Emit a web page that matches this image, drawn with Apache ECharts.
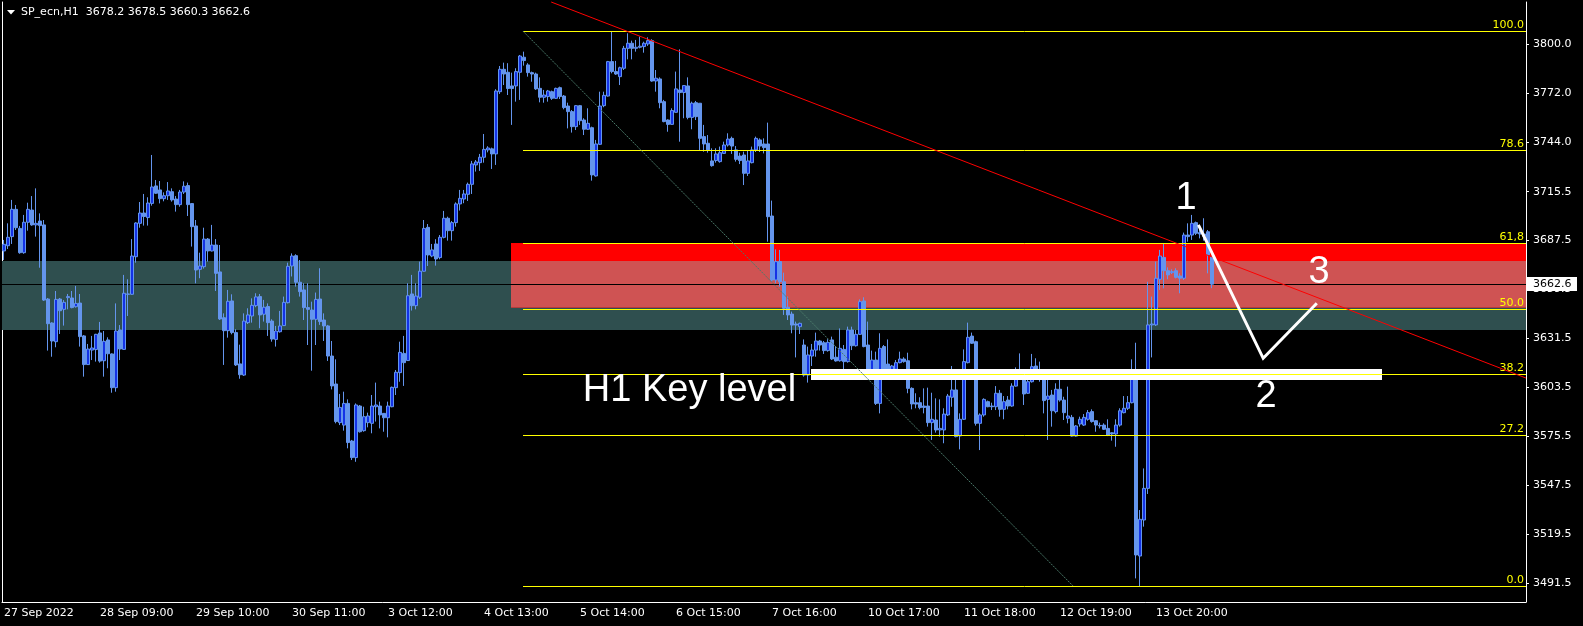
<!DOCTYPE html>
<html><head><meta charset="utf-8">
<script src="https://cdn.jsdelivr.net/npm/echarts@6/dist/echarts.min.js"></script>
<style>html,body{margin:0;padding:0;background:#000;}#c{width:1583px;height:626px;}</style>
</head><body><div id="c"></div>
<script>
const symbol = 'SP_ecn,H1';
const opens = [
3681.6,3684.6,3689.8,3705.4,3694.5,3680.6,3698.0,3705.0,3696.5,3698.7,
3696.5,3654.1,3640.4,3629.7,3654.1,3648.2,3654.9,3654.7,3649.7,3651.8,
3633.0,3616.6,3624.9,3625.2,3634.7,3618.8,3630.7,3622.7,3603.4,3636.4,
3625.3,3657.0,3656.8,3678.3,3697.4,3703.3,3700.7,3708.8,3718.8,3716.5,
3711.5,3713.2,3715.5,3711.3,3708.1,3715.3,3719.0,3708.7,3695.9,3671.1,
3672.6,3688.4,3681.6,3685.0,3669.6,3643.4,3636.0,3653.0,3634.9,3617.0,
3610.6,3640.6,3644.4,3650.3,3655.5,3645.4,3649.8,3641.5,3631.0,3635.4,
3638.9,3652.0,3673.0,3678.9,3663.7,3659.3,3649.2,3647.8,3642.5,3654.1,
3642.1,3638.7,3621.5,3605.5,3583.4,3582.0,3594.4,3572.9,3563.4,3592.9,
3578.8,3583.4,3583.0,3592.5,3592.9,3588.7,3586.2,3592.5,3603.4,3612.0,
3623.0,3618.9,3657.0,3650.3,3655.1,3670.0,3695.1,3678.7,3685.6,3677.8,
3689.4,3700.3,3693.2,3697.8,3708.5,3711.3,3714.0,3719.7,3730.8,3732.1,
3735.2,3739.4,3740.0,3737.1,3772.7,3785.5,3783.8,3776.0,3776.0,3783.8,
3792.4,3788.0,3783.6,3782.8,3774.6,3769.5,3769.9,3772.7,3768.9,3775.0,
3770.2,3764.5,3761.3,3752.7,3764.7,3756.5,3751.2,3752.1,3724.5,3742.6,
3764.7,3770.2,3789.9,3784.2,3781.3,3786.1,3797.5,3800.4,3797.5,3798.1,
3798.5,3800.0,3801.9,3778.8,3780.0,3767.0,3756.5,3754.0,3760.9,3773.7,
3772.2,3776.0,3758.0,3766.4,3766.1,3747.0,3743.2,3733.1,3733.3,3732.7,
3737.4,3742.2,3746.0,3739.4,3735.9,3736.5,3726.0,3732.1,3739.4,3745.1,
3742.8,3742.8,3701.6,3665.0,3675.5,3664.0,3649.4,3645.5,3639.8,3638.3,
3627.8,3610.6,3621.5,3624.9,3630.1,3629.1,3624.6,3630.7,3620.8,3618.8,
3625.3,3618.3,3636.4,3627.4,3633.9,3653.0,3627.8,3612.6,3619.2,3594.4,
3626.9,3616.9,3611.6,3613.9,3617.7,3619.8,3618.8,3603.0,3594.8,3594.8,
3592.9,3592.9,3583.4,3584.9,3579.2,3579.2,3587.8,3597.9,3602.1,3575.8,
3585.3,3617.7,3632.9,3629.7,3583.0,3587.8,3595.4,3592.9,3592.5,3600.2,
3591.0,3596.3,3592.9,3604.3,3609.7,3611.2,3600.2,3606.8,3615.8,3609.3,
3610.1,3596.7,3599.2,3589.7,3602.5,3596.3,3585.9,3586.4,3575.7,3582.6,
3582.0,3585.3,3589.7,3584.5,3581.8,3582.0,3580.1,3577.6,3576.9,3582.0,
3589.1,3591.6,3594.8,3610.6,3507.1,3527.7,3545.8,3639.3,3639.3,3665.4,
3677.9,3670.3,3669.2,3670.3,3667.3,3666.0,3690.7,3690.7,3697.8,3692.1,
3691.3,3692.6,3678.2];
const highs = [
3687.9,3697.4,3710.8,3707.9,3695.9,3702.2,3709.2,3713.0,3717.4,3703.1,
3699.3,3654.7,3640.8,3658.7,3654.7,3653.5,3657.0,3658.7,3661.6,3657.0,
3633.5,3628.4,3633.0,3634.2,3641.0,3635.8,3632.2,3623.0,3651.6,3639.2,
3667.9,3665.4,3688.4,3698.0,3709.6,3714.2,3712.3,3736.5,3722.2,3721.6,
3715.1,3721.0,3717.4,3713.0,3716.5,3721.4,3720.7,3708.9,3699.3,3680.6,
3694.9,3689.0,3696.5,3688.4,3685.0,3645.9,3659.3,3656.8,3636.8,3628.0,
3645.9,3648.8,3654.5,3657.4,3657.0,3653.6,3651.6,3642.5,3638.7,3647.3,
3655.5,3674.9,3680.2,3679.7,3676.4,3663.1,3663.1,3652.6,3657.8,3671.7,
3645.9,3639.3,3630.1,3619.6,3599.8,3601.1,3596.7,3573.5,3594.4,3593.5,
3592.5,3589.1,3599.2,3606.3,3595.4,3588.9,3595.4,3604.0,3613.5,3629.7,
3633.0,3663.1,3667.9,3663.1,3675.5,3699.3,3697.0,3685.6,3688.3,3690.7,
3704.5,3701.2,3698.7,3709.4,3716.5,3716.5,3720.7,3733.1,3733.6,3737.1,
3748.5,3741.5,3740.7,3774.1,3787.4,3789.3,3789.0,3783.6,3786.1,3793.7,
3795.6,3789.0,3784.2,3783.6,3780.9,3773.7,3773.7,3773.3,3775.0,3775.6,
3770.8,3766.4,3762.2,3765.1,3765.1,3757.5,3763.2,3752.7,3745.1,3772.7,
3772.7,3790.3,3807.1,3790.3,3787.0,3798.9,3806.1,3801.9,3802.3,3804.2,
3801.3,3803.8,3802.7,3785.1,3780.9,3768.0,3756.9,3763.2,3784.2,3796.9,
3776.5,3780.9,3767.0,3767.4,3766.1,3753.7,3747.9,3740.3,3740.3,3741.3,
3744.1,3748.9,3747.0,3741.6,3737.8,3738.4,3738.8,3741.3,3747.0,3746.0,
3746.0,3755.0,3710.4,3682.5,3682.2,3669.2,3655.5,3646.9,3641.2,3640.6,
3631.0,3626.9,3628.4,3634.9,3630.7,3630.1,3631.1,3632.6,3627.2,3637.3,
3627.8,3638.3,3638.3,3636.4,3653.9,3655.1,3641.2,3624.6,3624.0,3634.5,
3627.8,3631.0,3616.4,3619.2,3624.0,3620.8,3623.4,3603.6,3600.2,3597.9,
3603.0,3603.4,3600.5,3597.3,3596.7,3591.6,3599.8,3615.8,3607.8,3588.7,
3625.3,3640.6,3634.9,3630.3,3588.7,3597.3,3596.0,3594.8,3604.3,3602.1,
3598.6,3598.6,3605.9,3615.0,3623.0,3612.0,3607.8,3622.7,3620.2,3618.3,
3610.6,3607.8,3602.1,3605.9,3608.2,3598.2,3604.0,3587.8,3582.0,3586.8,
3588.3,3590.6,3591.0,3584.9,3583.4,3583.0,3585.3,3577.9,3585.3,3591.6,
3598.6,3598.6,3619.6,3629.1,3533.4,3557.2,3664.0,3655.5,3675.5,3682.2,
3685.6,3672.2,3671.1,3671.7,3668.8,3692.1,3697.4,3702.2,3698.4,3696.5,
3700.3,3693.6,3678.5];
const lows = [
3676.4,3682.7,3685.6,3693.6,3680.0,3680.0,3693.2,3696.0,3689.8,3672.0,
3653.0,3624.6,3621.1,3626.5,3634.1,3638.9,3648.2,3648.8,3649.2,3626.9,
3609.7,3616.4,3619.2,3618.3,3617.7,3609.7,3614.5,3600.5,3601.1,3619.2,
3625.0,3644.4,3656.5,3674.9,3694.9,3696.1,3696.1,3707.5,3714.2,3708.8,
3710.0,3710.8,3709.8,3704.1,3706.9,3714.2,3701.6,3684.1,3663.1,3666.0,
3671.5,3675.5,3681.3,3658.7,3642.1,3616.4,3632.0,3633.9,3615.8,3608.5,
3610.1,3639.8,3640.6,3649.4,3637.4,3641.2,3633.0,3629.7,3626.9,3634.9,
3638.7,3651.6,3667.0,3661.2,3655.5,3642.1,3627.8,3613.1,3627.8,3639.3,
3630.1,3618.7,3602.4,3583.0,3582.0,3578.8,3568.7,3562.0,3561.0,3577.7,
3578.2,3580.7,3577.3,3584.0,3580.1,3578.2,3575.0,3592.2,3599.2,3606.8,
3604.4,3618.7,3647.5,3648.2,3654.1,3669.8,3673.0,3678.0,3673.2,3676.8,
3688.8,3687.5,3687.5,3695.5,3704.7,3708.9,3710.2,3714.2,3727.0,3727.4,
3732.1,3738.0,3728.5,3730.8,3771.4,3776.5,3770.8,3753.7,3767.0,3768.0,
3787.6,3781.3,3778.4,3773.7,3766.6,3766.4,3767.0,3768.0,3768.5,3768.5,
3762.6,3751.7,3749.3,3750.8,3753.7,3747.9,3750.8,3721.8,3724.1,3742.2,
3763.8,3769.9,3783.2,3782.3,3776.5,3785.1,3791.2,3791.2,3795.6,3797.5,
3795.0,3798.9,3778.4,3772.7,3763.2,3755.2,3749.8,3753.7,3760.7,3744.1,
3757.5,3756.9,3751.2,3756.5,3739.0,3738.4,3737.8,3729.8,3732.1,3732.1,
3737.1,3741.3,3737.1,3732.7,3731.3,3719.3,3724.5,3731.7,3738.2,3738.2,
3737.4,3686.9,3664.0,3663.1,3661.2,3645.0,3642.1,3634.5,3620.7,3634.1,
3609.7,3606.3,3615.8,3621.1,3624.6,3622.7,3624.0,3619.2,3618.3,3618.3,
3611.2,3617.7,3624.9,3626.9,3633.5,3626.5,3611.6,3607.8,3593.5,3588.7,
3608.7,3610.6,3611.2,3611.2,3617.3,3617.7,3600.2,3591.0,3591.6,3591.0,
3588.7,3581.1,3573.5,3577.7,3575.4,3571.6,3587.2,3592.5,3575.0,3568.1,
3584.9,3617.3,3628.4,3581.7,3567.7,3586.8,3592.2,3590.6,3590.6,3586.8,
3585.3,3591.0,3592.5,3604.0,3607.8,3593.5,3599.8,3606.3,3607.8,3606.8,
3588.7,3573.5,3581.1,3588.7,3595.4,3584.9,3583.0,3575.4,3575.4,3581.1,
3581.5,3584.5,3583.4,3578.2,3580.1,3579.2,3575.7,3573.1,3569.6,3581.1,
3588.7,3590.6,3594.4,3494.3,3489.9,3523.9,3542.6,3620.7,3638.7,3659.3,
3660.2,3665.4,3668.4,3665.9,3657.4,3665.0,3686.9,3687.9,3690.7,3688.8,
3687.5,3668.8,3660.3];
const closes = [
3685.4,3689.4,3705.4,3694.9,3680.6,3698.0,3705.4,3696.5,3697.4,3696.1,
3653.5,3640.0,3630.1,3653.9,3647.4,3652.2,3655.5,3649.2,3651.6,3632.6,
3616.6,3625.5,3626.1,3633.9,3618.6,3629.9,3622.8,3603.4,3635.8,3625.5,
3657.4,3656.8,3678.7,3697.6,3703.3,3701.3,3709.0,3718.2,3714.6,3711.5,
3713.2,3715.9,3710.8,3708.1,3715.3,3718.6,3708.1,3695.5,3670.7,3673.0,
3688.4,3681.6,3685.0,3668.8,3642.7,3636.0,3652.8,3634.9,3616.4,3610.8,
3641.5,3645.0,3650.5,3655.3,3645.0,3649.4,3640.6,3631.2,3635.8,3638.7,
3652.2,3672.8,3678.7,3663.7,3658.3,3649.2,3648.2,3642.5,3653.9,3641.2,
3638.7,3621.5,3604.4,3584.0,3592.1,3594.4,3572.0,3563.4,3593.5,3578.2,
3586.8,3587.2,3592.9,3593.5,3587.8,3586.2,3592.9,3603.6,3612.2,3623.6,
3617.7,3656.0,3650.3,3655.8,3670.0,3694.5,3679.3,3682.2,3677.0,3689.4,
3700.3,3693.2,3697.8,3708.5,3711.7,3714.2,3719.7,3731.4,3732.5,3735.2,
3739.7,3740.5,3737.1,3773.1,3785.5,3782.8,3774.5,3774.5,3784.2,3793.1,
3790.5,3783.6,3782.8,3774.3,3769.5,3770.8,3773.1,3768.9,3774.6,3769.9,
3763.6,3761.3,3752.7,3764.7,3756.1,3751.2,3754.6,3725.1,3742.8,3764.5,
3770.6,3789.9,3784.2,3782.8,3786.4,3797.5,3800.4,3797.5,3798.1,3798.7,
3800.4,3801.9,3778.8,3780.4,3766.4,3755.6,3754.0,3761.9,3774.3,3772.2,
3776.2,3758.0,3766.1,3758.4,3746.0,3742.8,3739.4,3730.4,3737.1,3737.8,
3742.2,3745.6,3741.6,3734.0,3733.3,3726.0,3733.1,3739.4,3746.0,3741.6,
3740.7,3701.2,3665.0,3675.5,3664.0,3648.8,3645.0,3639.2,3639.2,3640.2,
3610.6,3622.1,3624.9,3630.1,3627.8,3624.6,3629.3,3619.8,3618.7,3625.9,
3618.3,3636.4,3627.4,3633.9,3652.6,3626.9,3612.6,3619.2,3594.4,3625.9,
3609.7,3611.2,3615.8,3617.7,3619.8,3618.3,3603.0,3594.1,3594.0,3592.0,
3592.1,3583.4,3585.3,3579.2,3580.1,3588.3,3598.6,3602.1,3575.4,3585.3,
3618.3,3632.2,3628.8,3583.0,3587.8,3596.7,3592.5,3592.5,3600.2,3591.0,
3595.4,3592.9,3604.3,3609.3,3611.6,3599.8,3606.8,3615.4,3608.2,3608.2,
3596.0,3598.6,3590.2,3602.5,3596.3,3589.1,3587.2,3575.7,3581.5,3585.3,
3586.4,3589.1,3584.0,3582.0,3581.5,3579.6,3576.3,3576.9,3582.0,3590.2,
3591.6,3594.8,3610.6,3507.7,3528.1,3545.8,3639.3,3639.8,3666.0,3678.7,
3670.3,3667.9,3669.8,3666.5,3666.0,3690.7,3689.8,3697.4,3691.7,3691.3,
3690.0,3679.3,3662.6];
const tickLabels = ['27 Sep 2022','28 Sep 09:00','29 Sep 10:00','30 Sep 11:00','3 Oct 12:00','4 Oct 13:00','5 Oct 14:00','6 Oct 15:00','7 Oct 16:00','10 Oct 17:00','11 Oct 18:00','12 Oct 19:00','13 Oct 20:00'];
const barsPerTick = 24;
const priceTicks = [3800.0,3772.0,3744.0,3715.5,3687.5,3659.5,3631.5,3603.5,3575.5,3547.5,3519.5,3491.5];
const fibLabels = ['100.0','78.6','61,8','50.0','38.2','27.2','0.0'];
const fibRatios = [1.0,0.786,0.618,0.5,0.382,0.272,0.0];
const fibHigh = 3807.3, fibLow = 3490.0;

// ---- layout / drawing configuration ----
const SLOTS = 381;             // chart slots incl. right shift area
const PMIN = 3480.8, PMAX = 3824.0;
const fibStart = 130.25;
const zones = [
  {x0:0, x1:SLOTS, lo:3636.4, hi:3675.9, color:'#2f4f4f'},
  {x0:127.25, x1:SLOTS, lo:3649.2, hi:3686.2, color:'#ff0000'}
];
const overlapColor = '#cf5353';
const keyLevel = {x0:202.25, x1:345, lo:3607.8, hi:3614.1};
const lineObjs = [
  {pts:[[fibStart,fibHigh],[267.75,fibLow]], color:'#4b7a6a', width:1, dash:[2,1]},
  {pts:[[137.3,3824.0],[SLOTS,3608.9]], color:'#ff0000', width:1},
  {pts:[[299.1,3696.5],[315.3,3620.2],[328.7,3651.7]], color:'#ffffff', width:3}
];
const notes = [
  {text:'1', x:296.0, y:3711.5, align:'center'},
  {text:'2', x:316.0, y:3598.6, align:'center'},
  {text:'3', x:329.25, y:3669.2, align:'center'},
  {text:'H1 Key level', x:145.2, y:3601.8, align:'left'}
];

const N = closes.length;
const ohlc = opens.map((o,i)=>[o, closes[i], lows[i], highs[i]]);
const cats = Array.from({length:SLOTS}, (_,i)=>String(i));
const labelAt = i => (i % barsPerTick === 0 && i / barsPerTick < tickLabels.length) ? tickLabels[i / barsPerTick] : '';
const lastClose = closes[N-1];
const headerText = symbol + '  ' + [opens[N-1], highs[N-1], lows[N-1], closes[N-1]].map(v=>v.toFixed(1)).join(' ');

const zoneRects = zones.map(z=>z);
(function(){
  const a = zones[0], b = zones[1];
  const x0 = Math.max(a.x0,b.x0), x1 = Math.min(a.x1,b.x1), lo = Math.max(a.lo,b.lo), hi = Math.min(a.hi,b.hi);
  if (x1 > x0 && hi > lo) zoneRects.push({x0, x1, lo, hi, color: overlapColor});
})();

const FONT = '"DejaVu Sans", sans-serif';
const chart = echarts.init(document.getElementById('c'), null, {renderer:'canvas'});

function rectItem(api, r, fill){
  const p0 = api.coord([r.x0, r.hi]);
  const p1 = api.coord([r.x1, r.lo]);
  return {type:'rect', shape:{x:p0[0], y:p0[1], width:p1[0]-p0[0], height:p1[1]-p0[1]}, style:{fill:fill}};
}

const option = {
  backgroundColor:'#000',
  animation:false,
  grid:{left:2, right:57, top:2, bottom:24, outerBoundsMode:'none', containLabel:false},
  graphic:[
    {type:'polygon', shape:{points:[[7,10],[15,10],[11,14.5]]}, style:{fill:'#fff'}},
    {type:'text', x:21, y:12.5, style:{text:headerText, fill:'#fff', font:'11px '+FONT, verticalAlign:'middle', textVerticalAlign:'middle'}}
  ],
  xAxis:[
    {type:'category', data:cats, boundaryGap:true,
     axisLine:{onZero:false, lineStyle:{color:'#fff', width:1}},
     axisTick:{alignWithLabel:true, interval:(i)=>labelAt(i)!=='', length:4, lineStyle:{color:'#fff'}},
     axisLabel:{interval:(i)=>labelAt(i)!=='', formatter:(v,i)=>labelAt(i), align:'left', color:'#fff', fontFamily:FONT, fontSize:11, margin:6},
     splitLine:{show:false}},
    {type:'value', min:0, max:SLOTS, show:false}
  ],
  yAxis:[
    {type:'value', position:'right', min:PMIN, max:PMAX, scale:true,
     axisLine:{show:true, onZero:false, lineStyle:{color:'#fff'}},
     axisTick:{show:true, length:3, customValues:priceTicks, lineStyle:{color:'#fff'}},
     axisLabel:{customValues:priceTicks, formatter:(v)=>Number(v).toFixed(1), color:'#fff', fontFamily:FONT, fontSize:11, margin:7},
     splitLine:{show:false}},
    {type:'value', position:'left', min:PMIN, max:PMAX, scale:true,
     axisLine:{show:true, onZero:false, lineStyle:{color:'#fff'}},
     axisTick:{show:false}, axisLabel:{show:false}, splitLine:{show:false}}
  ],
  series:[
    {type:'custom', name:'zones', xAxisIndex:1, yAxisIndex:0, z:1, silent:true,
     data: zoneRects.map((r,i)=>[r.x0, r.lo, i]),
     renderItem:(params, api)=>{ const r = zoneRects[params.dataIndex]; return rectItem(api, r, r.color); }},
    {type:'custom', name:'priceLine', xAxisIndex:1, yAxisIndex:0, z:2, silent:true,
     data:[[0, lastClose]],
     renderItem:(params, api)=>{
       const a = api.coord([0, api.value(1)]), b = api.coord([SLOTS, api.value(1)]);
       const y = Math.round(a[1]) + 0.5;
       return {type:'line', shape:{x1:a[0], y1:y, x2:b[0], y2:y}, style:{stroke:'#000', lineWidth:1}};
     }},
    {type:'candlestick', name:'SP', xAxisIndex:0, yAxisIndex:0, z:3, data:ohlc, barWidth:3,
     itemStyle:{color:'#1432e6', color0:'#6495ed', borderColor:'#6495ed', borderColor0:'#6495ed', borderWidth:1}},
    {type:'custom', name:'keyLevel', xAxisIndex:1, yAxisIndex:0, z:4, silent:true,
     data:[[keyLevel.x0, keyLevel.lo]],
     renderItem:(params, api)=>rectItem(api, keyLevel, '#ffffff')},
    {type:'custom', name:'fib', xAxisIndex:1, yAxisIndex:0, z:5, silent:true,
     data: fibRatios.map((r,i)=>[fibStart, fibLow + r*(fibHigh-fibLow), i]),
     renderItem:(params, api)=>{
       const i = params.dataIndex;
       const a = api.coord([api.value(0), api.value(1)]), b = api.coord([SLOTS, api.value(1)]);
       const y = Math.round(a[1]) + 0.5;
       return {type:'group', children:[
         {type:'line', shape:{x1:a[0], y1:y, x2:b[0], y2:y}, style:{stroke:'#ffff00', lineWidth:1}},
         {type:'text', x:b[0]-2, y:y-1, style:{text:fibLabels[i], fill:'#ffff00', font:'11px '+FONT, align:'right', verticalAlign:'bottom', textAlign:'right', textVerticalAlign:'bottom'}}
       ]};
     }},
    {type:'custom', name:'lines', xAxisIndex:1, yAxisIndex:0, z:6, silent:true,
     data: lineObjs.map((l,i)=>[l.pts[0][0], l.pts[0][1], i]),
     renderItem:(params, api)=>{
       const l = lineObjs[params.dataIndex];
       const pts = l.pts.map(p=>api.coord(p));
       return {type:'polyline', shape:{points:pts}, style:{stroke:l.color, lineWidth:l.width, lineDash:l.dash||null, fill:null, lineJoin:'miter'}};
     }},
    {type:'custom', name:'notes', xAxisIndex:1, yAxisIndex:0, z:7, silent:true,
     data: notes.map((n,i)=>[n.x, n.y, i]),
     renderItem:(params, api)=>{
       const n = notes[params.dataIndex];
       const p = api.coord([n.x, n.y]);
       return {type:'text', x:p[0], y:p[1], style:{text:n.text, fill:'#ffffff', font:'38px "Liberation Sans", Arial, sans-serif', align:n.align, verticalAlign:'middle', textAlign:n.align, textVerticalAlign:'middle'}};
     }},
    {type:'custom', name:'priceBox', xAxisIndex:1, yAxisIndex:0, z:8, silent:true, clip:false,
     data:[[SLOTS, lastClose]],
     renderItem:(params, api)=>{
       const p = api.coord([SLOTS, api.value(1)]);
       const y = Math.round(p[1]);
       return {type:'group', children:[
         {type:'rect', shape:{x:p[0]+1, y:y-7, width:50, height:14}, style:{fill:'#ffffff'}},
         {type:'text', x:p[0]+7, y:y, style:{text:lastClose.toFixed(1), fill:'#000', font:'11px '+FONT, align:'left', verticalAlign:'middle', textAlign:'left', textVerticalAlign:'middle'}}
       ]};
     }}
  ]
};
chart.setOption(option);
</script></body></html>
